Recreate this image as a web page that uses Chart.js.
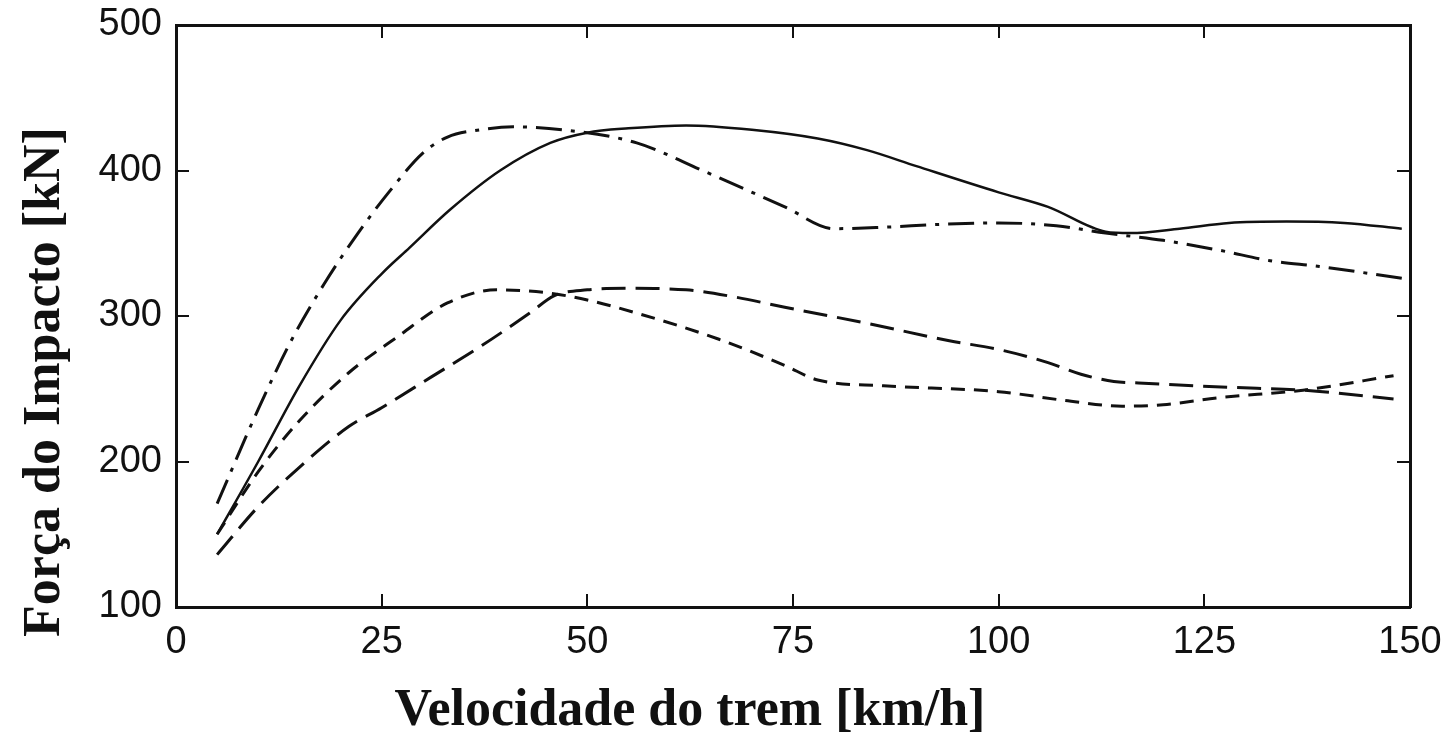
<!DOCTYPE html>
<html>
<head>
<meta charset="utf-8">
<script src="https://cdn.jsdelivr.net/npm/chart.js@4.4.1/dist/chart.umd.min.js"></script>
<style>
	body { margin: 0; background: #fff; }
	#wrap { width: 1446px; height: 735px; }
</style>
</head>
<body>
<div id="wrap"><canvas id="impactChart"></canvas></div>
<script>
// velocidade [km/h] e forca [kN]
var solidSpeed = [5, 10, 15, 20, 25, 28.4, 33.3, 39.4, 45.5, 50, 55, 62, 70, 78, 84, 90, 100, 106, 113, 116, 122, 128, 135, 142, 149];
var solidForce = [150, 200, 252, 297, 329, 347, 373, 400, 419, 426, 429, 431, 428, 422, 414, 403, 385, 375, 358, 357, 360, 364, 365, 364, 360];

var shortDashSpeed = [5, 10, 15, 21, 27, 33, 39, 45, 50, 56, 66, 74, 78, 86, 100, 108, 115, 120, 127, 137, 148];
var shortDashForce = [150, 193, 228, 261, 286, 309, 318, 316, 311, 302, 284, 266, 256, 252, 248, 242, 238, 239, 244, 249, 259];

var longDashSpeed = [5, 10, 15, 21, 25, 31, 37, 43, 46, 50, 55, 62, 68, 74, 84, 94, 100, 106, 110, 114, 117, 128, 137, 148];
var longDashForce = [136, 169, 196, 224, 237, 258, 279, 302, 314, 318, 319, 318, 313, 306, 295, 283, 277, 268, 260, 255, 254, 251, 249, 243];

var dashDotSpeed = [5, 10, 14, 18, 22, 26, 30, 33, 37, 41, 47, 56, 64, 74, 80, 86, 93, 100, 107, 113, 120, 127, 133, 139, 149];
var dashDotForce = [171, 236, 283, 322, 356, 386, 412, 423, 428, 430, 428, 419, 400, 375, 360, 361, 363, 364, 362, 357, 352, 345, 338, 334, 326];

var xTicks = [0, 25, 50, 75, 100, 125, 150];
var yTicks = [100, 200, 300, 400, 500];

var xTitle = "Velocidade do trem [km/h]";
var yTitle = "Força do Impacto [kN]";

function toPoints(xs, ys) {
	return xs.map(function (x, i) {
		return { x: x, y: ys[i] };
	});
}

function lineSet(label, xs, ys, dash, width) {
	return {
		label: label,
		data: toPoints(xs, ys),
		borderColor: "#111",
		borderWidth: width,
		borderDash: dash,
		pointRadius: 0,
		fill: false,
		cubicInterpolationMode: "monotone",
	};
}

// titulos dos eixos desenhados fora do centro, como no original
var axisTitles = {
	id: "axisTitles",
	afterDraw: function (chart) {
		var ctx = chart.ctx;
		ctx.save();
		ctx.fillStyle = "#111";
		ctx.font = "bold 52px 'Liberation Serif', 'Times New Roman', serif";
		ctx.textAlign = "center";
		ctx.textBaseline = "alphabetic";
		ctx.fillText(xTitle, 690, 725);
		ctx.translate(59, 382);
		ctx.rotate(-Math.PI / 2);
		ctx.fillText(yTitle, 0, 0);
		ctx.restore();
	},
};

function noEdgePad(s) {
	s.paddingTop = 0;
	s.paddingBottom = 0;
	s.paddingLeft = 0;
	s.paddingRight = 0;
}

var tickFont = { family: "'Liberation Sans', Arial, sans-serif", size: 38 };
var innerGrid = { drawOnChartArea: false, tickLength: -13, color: "#111", lineWidth: 2 };
var frame = { display: true, color: "#111", width: 3 };

new Chart(document.getElementById("impactChart"), {
	type: "line",
	data: {
		datasets: [
			lineSet("solida", solidSpeed, solidForce, [], 2.5),
			lineSet("tracejada curta", shortDashSpeed, shortDashForce, [14, 9], 3),
			lineSet("tracejada longa", longDashSpeed, longDashForce, [24, 10], 3),
			lineSet("traco-ponto", dashDotSpeed, dashDotForce, [26, 9, 4, 9], 3),
		],
	},
	options: {
		responsive: true,
		maintainAspectRatio: false,
		animation: false,
		layout: { padding: { top: 25, right: 36, left: 0, bottom: 0 } },
		plugins: { legend: { display: false }, tooltip: { enabled: false } },
		scales: {
			x: {
				type: "linear",
				position: "bottom",
				min: 0,
				max: 150,
				afterBuildTicks: function (s) { s.ticks = xTicks.map(function (v) { return { value: v }; }); },
				afterFit: function (s) { s.height = 128; noEdgePad(s); },
				ticks: { font: tickFont, color: "#111", padding: 26, maxRotation: 0 },
				grid: innerGrid,
				border: frame,
			},
			x2: {
				type: "linear",
				position: "top",
				min: 0,
				max: 150,
				afterBuildTicks: function (s) { s.ticks = xTicks.map(function (v) { return { value: v }; }); },
				afterFit: function (s) { s.height = 0; noEdgePad(s); },
				ticks: { display: false },
				grid: innerGrid,
				border: frame,
			},
			y: {
				position: "left",
				min: 100,
				max: 500,
				afterBuildTicks: function (s) { s.ticks = yTicks.map(function (v) { return { value: v }; }); },
				afterFit: function (s) { s.width = 176; noEdgePad(s); },
				ticks: { font: tickFont, color: "#111", padding: 27 },
				grid: innerGrid,
				border: frame,
			},
			y2: {
				position: "right",
				min: 100,
				max: 500,
				afterBuildTicks: function (s) { s.ticks = yTicks.map(function (v) { return { value: v }; }); },
				afterFit: function (s) { s.width = 0; noEdgePad(s); },
				ticks: { display: false },
				grid: innerGrid,
				border: frame,
			},
		},
	},
	plugins: [axisTitles],
});
</script>
</body>
</html>
